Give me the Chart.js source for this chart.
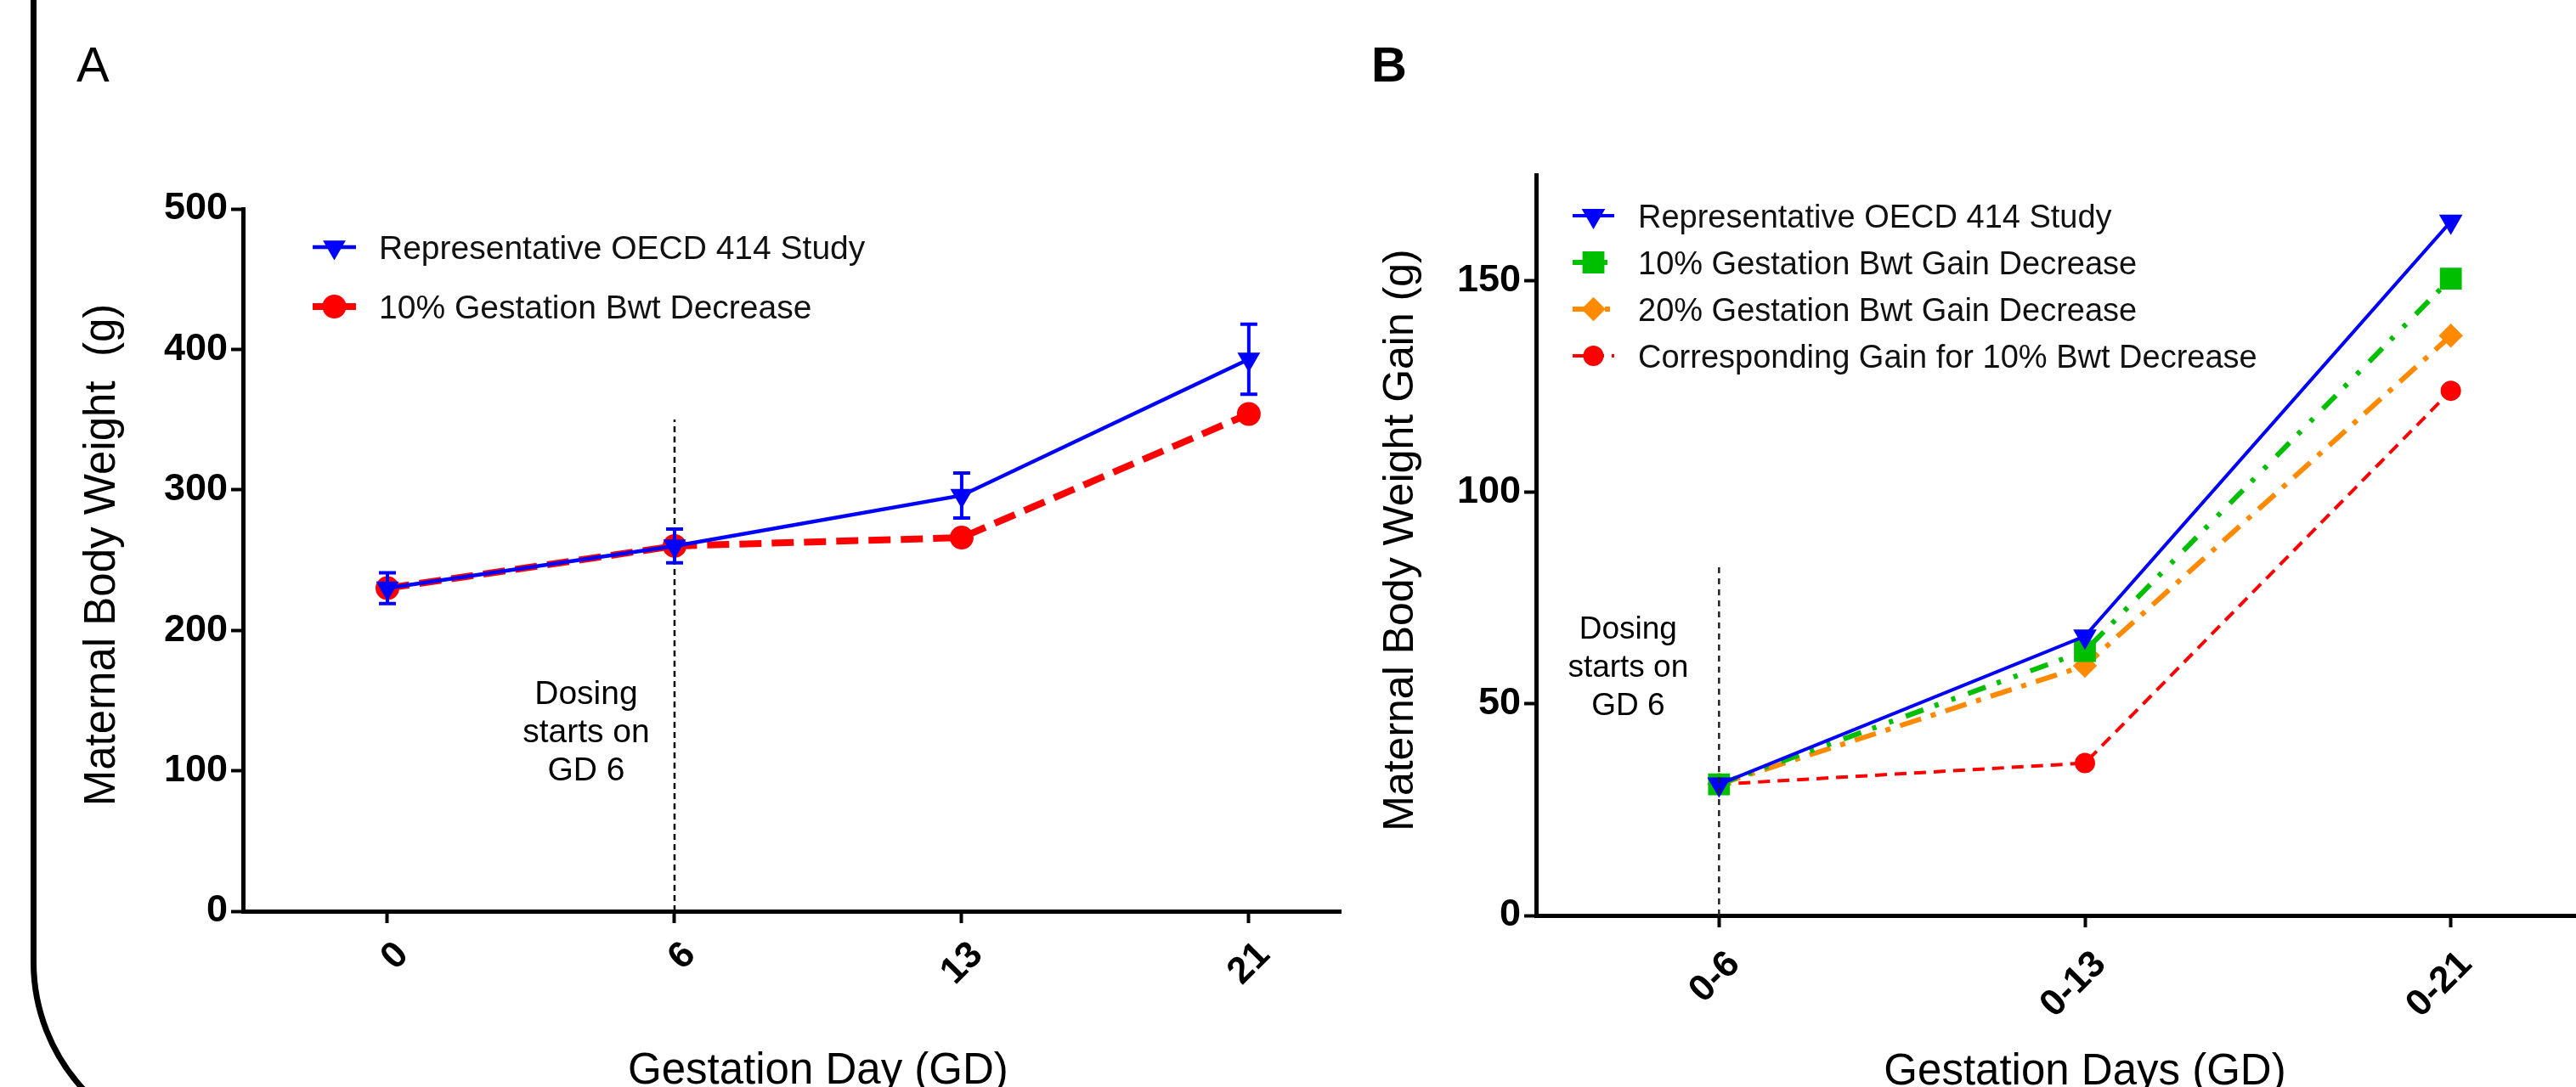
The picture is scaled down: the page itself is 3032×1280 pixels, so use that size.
<!DOCTYPE html>
<html>
<head>
<meta charset="utf-8">
<script src="https://cdn.jsdelivr.net/npm/chart.js@4.4.1/dist/chart.umd.min.js"></script>
<style>
  html, body { margin: 0; padding: 0; background: #fff; overflow: hidden; }
  #page { position: relative; width: 3032px; height: 1280px; overflow: hidden; background: #fff; }
  #frame { position: absolute; left: 36px; top: -400px; width: 4000px; height: 1757px;
           border: 7px solid #000; border-radius: 224px; box-sizing: border-box; }
  canvas { position: absolute; top: 0; }
  #panelA { left: 0; }
  #panelB { left: 1560px; }
</style>
</head>
<body>
<div id="page">
  <div id="frame"></div>
  <canvas id="panelA" width="1600" height="1280"></canvas>
  <canvas id="panelB" width="1560" height="1280"></canvas>
</div>
<script>
// ---- Panel A: maternal body weight by gestation day ----
const dayLabels = ['0', '6', '13', '21'];
const oecdWeight = [230, 260, 296, 393];
const oecdWeightSd = [11, 12, 16, 25];
const decreasedWeight = [230, 260, 266, 354];
const weightTicks = [0, 100, 200, 300, 400, 500];
const dosingLineA = [0, 350];

// ---- Panel B: maternal body weight gain by interval ----
const gainLabels = ['0-6', '0-13', '0-21'];
const oecdGain = [31, 66, 164];
const gainDecrease10 = [31, 62.5, 150.5];
const gainDecrease20 = [31, 59, 137];
const gainForBwtDecrease = [31, 36, 124];
const gainTicks = [0, 50, 100, 150];
const dosingLineB = [0, 83];

const BLACK = '#000';
const FONT = "'Liberation Sans', Arial, sans-serif";
Chart.defaults.font.family = FONT;
Chart.defaults.color = BLACK;

// turn a list of y values into {x: index, y} points
const pts = arr => arr.map((y, i) => ({ x: i, y }));
// vertical dosing line at a category index
const vline = (idx, arr) => arr.map(y => ({ x: idx, y }));

/* error bars (mean +/- SD) drawn through the chart scales */
function makeErrorBars(means, errors, color) {
  return {
    id: 'errorBars',
    afterDatasetsDraw(chart) {
      const { ctx, scales: { x, y } } = chart;
      ctx.save();
      ctx.strokeStyle = color;
      ctx.lineWidth = 4;
      means.forEach((m, i) => {
        const px = x.getPixelForValue(i);
        const top = y.getPixelForValue(m + errors[i]);
        const bot = y.getPixelForValue(m - errors[i]);
        ctx.beginPath();
        ctx.moveTo(px, top); ctx.lineTo(px, bot);
        ctx.moveTo(px - 10, top); ctx.lineTo(px + 10, top);
        ctx.moveTo(px - 10, bot); ctx.lineTo(px + 10, bot);
        ctx.stroke();
      });
      ctx.restore();
    }
  };
}

/* legend with a line sample + marker, like the GraphPad style */
function makeLegend(cfg) {
  return {
    id: 'lineLegend',
    afterDraw(chart) {
      const ctx = chart.ctx;
      const items = chart.data.datasets.filter(d => d.label);
      ctx.save();
      items.forEach((ds, i) => {
        const cy = cfg.rows[i];
        ctx.strokeStyle = ds.borderColor;
        ctx.lineWidth = ds.borderWidth;
        ctx.setLineDash(ds.borderDash || []);
        ctx.beginPath();
        ctx.moveTo(cfg.x0, cy); ctx.lineTo(cfg.x1, cy);
        ctx.stroke();
        ctx.setLineDash([]);
        ctx.fillStyle = ds.pointBackgroundColor;
        ctx.strokeStyle = ds.pointBorderColor;
        Chart.helpers.drawPoint(ctx, {
          pointStyle: ds.pointStyle, radius: ds.pointRadius,
          rotation: ds.pointRotation || 0, borderWidth: 1
        }, (cfg.x0 + cfg.x1) / 2, cy);
        ctx.fillStyle = '#111';
        ctx.font = cfg.size + 'px ' + FONT;
        ctx.textAlign = 'left';
        ctx.textBaseline = 'alphabetic';
        ctx.fillText(ds.label, cfg.textX, cy + cfg.size * 0.36);
      });
      ctx.restore();
    }
  };
}

/* panel letter, axis titles and the dosing note */
function makeDecor(cfg) {
  return {
    id: 'panelDecor',
    afterDraw(chart) {
      const { ctx, chartArea, scales: { x } } = chart;
      ctx.save();
      ctx.fillStyle = BLACK;
      ctx.textBaseline = 'alphabetic';

      ctx.font = cfg.letterFont;
      ctx.textAlign = 'left';
      ctx.fillText(cfg.letter, cfg.letterX, 96);

      ctx.font = cfg.xTitleSize + 'px ' + FONT;
      ctx.textAlign = 'center';
      const mid = (x.getPixelForValue(0) + x.getPixelForValue(cfg.lastIndex)) / 2;
      ctx.fillText(cfg.xTitle, mid, cfg.xTitleBaseline);

      ctx.font = cfg.noteSize + 'px ' + FONT;
      const nx = x.getPixelForValue(cfg.noteIndex) + cfg.noteDx;
      cfg.noteLines.forEach((t, i) => ctx.fillText(t, nx, cfg.noteTop + i * cfg.noteStep));

      ctx.font = cfg.yTitleSize + 'px ' + FONT;
      ctx.translate(cfg.yTitleBaseline, (chartArea.top + chartArea.bottom) / 2 + cfg.yTitleShift);
      ctx.rotate(-Math.PI / 2);
      ctx.fillText(cfg.yTitle, 0, 0);
      ctx.restore();
    }
  };
}

function xAxis(labels, min, max, height, pad) {
  return {
    type: 'linear', min, max,
    afterBuildTicks: s => { s.ticks = labels.map((_, i) => ({ value: i })); },
    afterFit: s => { s.height = height; },
    ticks: {
      callback: v => labels[v], minRotation: 45, maxRotation: 45, autoSkip: false,
      padding: pad, labelOffset: 18, font: { size: 44, weight: 'bold' }, color: BLACK
    },
    grid: { drawOnChartArea: false, drawTicks: true, tickLength: 14, tickWidth: 4, tickColor: BLACK },
    border: { display: true, color: BLACK, width: 5 }
  };
}

function yAxis(ticks, max, width) {
  return {
    min: 0, max,
    afterBuildTicks: s => { s.ticks = ticks.map(v => ({ value: v })); },
    afterFit: s => { s.width = width; },
    ticks: { padding: 4, font: { size: 45, weight: 'bold' }, color: BLACK },
    grid: { drawOnChartArea: false, drawTicks: true, tickLength: 14, tickWidth: 4, tickColor: BLACK },
    border: { display: true, color: BLACK, width: 5 }
  };
}

const baseOptions = {
  responsive: false,
  animation: false,
  events: [],
  elements: { line: { tension: 0 } },
  plugins: { legend: { display: false }, tooltip: { enabled: false } }
};

// ---------- Panel A ----------
new Chart(document.getElementById('panelA'), {
  type: 'line',
  data: {
    datasets: [
      {
        label: 'Representative OECD 414 Study', data: pts(oecdWeight),
        borderColor: '#0000FF', borderWidth: 4.5,
        pointStyle: 'triangle', pointRotation: 180, pointRadius: 11,
        pointBackgroundColor: '#0000FF', pointBorderColor: '#0000FF'
      },
      {
        label: '10% Gestation Bwt Decrease', data: pts(decreasedWeight),
        borderColor: '#FF0000', borderWidth: 8, borderDash: [26, 12],
        pointStyle: 'circle', pointRadius: 10,
        pointBackgroundColor: '#FF0000', pointBorderColor: '#FF0000'
      },
      {
        data: vline(1, dosingLineA), borderColor: BLACK, borderWidth: 2.5,
        borderDash: [7, 5], pointRadius: 0, order: -1
      }
    ]
  },
  options: {
    ...baseOptions,
    layout: { padding: { left: 0, top: 246, right: 22, bottom: 0 } },
    scales: {
      x: xAxis(dayLabels, -0.503, 3.32, 207, 12),
      y: yAxis(weightTicks, 500, 286)
    }
  },
  plugins: [
    makeErrorBars(oecdWeight, oecdWeightSd, '#0000FF'),
    makeLegend({ x0: 368, x1: 419, textX: 446, rows: [291, 361], size: 39 }),
    makeDecor({
      letter: 'A', letterX: 90, letterFont: '58px ' + FONT,
      xTitle: 'Gestation Day (GD)', xTitleSize: 51, xTitleBaseline: 1276, lastIndex: 3,
      yTitle: 'Maternal Body Weight  (g)', yTitleSize: 51, yTitleBaseline: 135, yTitleShift: -6,
      noteLines: ['Dosing', 'starts on', 'GD 6'], noteSize: 39, noteIndex: 1, noteDx: -104,
      noteTop: 829, noteStep: 45
    })
  ]
});

// ---------- Panel B ----------
new Chart(document.getElementById('panelB'), {
  type: 'line',
  data: {
    datasets: [
      {
        label: 'Representative OECD 414 Study', data: pts(oecdGain),
        borderColor: '#0000FF', borderWidth: 4,
        pointStyle: 'triangle', pointRotation: 180, pointRadius: 12,
        pointBackgroundColor: '#0000FF', pointBorderColor: '#0000FF'
      },
      {
        label: '10% Gestation Bwt Gain Decrease', data: pts(gainDecrease10),
        borderColor: '#00BF00', borderWidth: 6, borderDash: [22, 14, 5, 16, 5, 16],
        pointStyle: 'rect', pointRadius: 14,
        pointBackgroundColor: '#00BF00', pointBorderColor: '#00BF00'
      },
      {
        label: '20% Gestation Bwt Gain Decrease', data: pts(gainDecrease20),
        borderColor: '#FF8A00', borderWidth: 6, borderDash: [26, 12, 6, 12],
        pointStyle: 'rectRot', pointRadius: 10,
        pointBackgroundColor: '#FF8A00', pointBorderColor: '#FF8A00'
      },
      {
        label: 'Corresponding Gain for 10% Bwt Decrease', data: pts(gainForBwtDecrease),
        borderColor: '#FF0000', borderWidth: 4, borderDash: [14, 9],
        pointStyle: 'circle', pointRadius: 10,
        pointBackgroundColor: '#FF0000', pointBorderColor: '#FF0000'
      },
      {
        data: vline(0, dosingLineB), borderColor: '#222', borderWidth: 2.5,
        borderDash: [7, 6], pointRadius: 0, order: -1
      }
    ]
  },
  options: {
    ...baseOptions,
    layout: { padding: { left: 0, top: 206, right: 7, bottom: 0 } },
    scales: {
      x: xAxis(gainLabels, -0.5, 2.5, 202, 18),
      y: yAxis(gainTicks, 175, 248)
    }
  },
  plugins: [
    makeLegend({ x0: 291, x1: 340, textX: 368, rows: [254, 309, 364, 419], size: 38 }),
    makeDecor({
      letter: 'B', letterX: 54, letterFont: 'bold 58px ' + FONT,
      xTitle: 'Gestation Days (GD)', xTitleSize: 51, xTitleBaseline: 1277, lastIndex: 2,
      yTitle: 'Maternal Body Weight Gain (g)', yTitleSize: 50, yTitleBaseline: 103, yTitleShift: -6,
      noteLines: ['Dosing', 'starts on', 'GD 6'], noteSize: 37, noteIndex: 0, noteDx: -107,
      noteTop: 752, noteStep: 45
    })
  ]
});
</script>
</body>
</html>
